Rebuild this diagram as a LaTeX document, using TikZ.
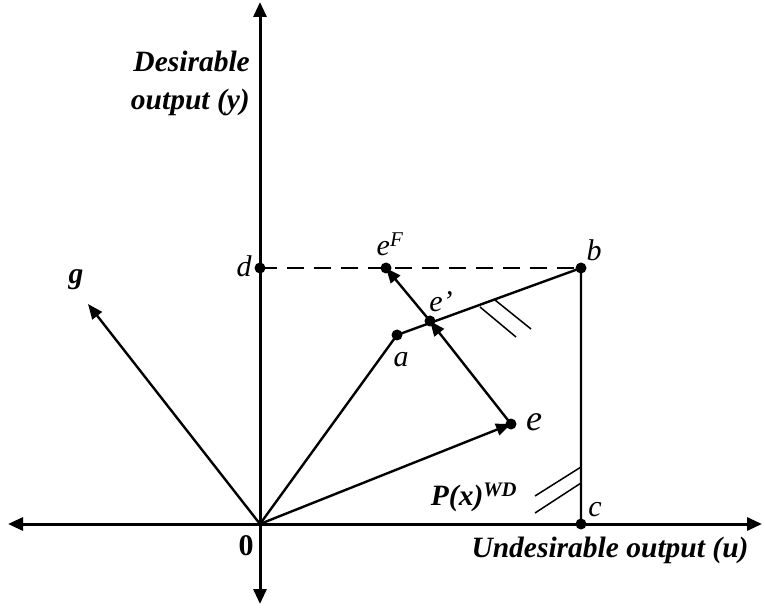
\documentclass[tikz,border=0pt]{standalone}
\usepackage{fontspec}
\setmainfont{Liberation Serif}
\usetikzlibrary{arrows.meta}
\begin{document}
\begin{tikzpicture}[x=1pt,y=1pt,
		axis/.style={line width=3pt, -{Triangle[length=15pt,width=13pt]}},
		vec/.style={line width=2.4pt, -{Triangle[length=15pt,width=12pt]}},
		edge/.style={line width=2.4pt},
		hatch/.style={line width=1.5pt},
		lbl/.style={font=\fontsize{30}{32}\selectfont\itshape, inner sep=1pt},
		bold lbl/.style={font=\fontsize{29.5}{38}\selectfont\bfseries\itshape, inner sep=1pt}]
			\useasboundingbox (0,0) rectangle (765,608);
			% points
			\coordinate (O) at (260,84);
			\coordinate (d) at (260,340);
			\coordinate (b) at (581,340);
			\coordinate (c) at (581,84);
			\coordinate (a) at (397,273);
			\coordinate (ep) at (430,287);
			\coordinate (e) at (511,184);
			\coordinate (eF) at (386,340);
			\coordinate (g) at (88,304);
			\coordinate (xl) at (8,84);
			\coordinate (xr) at (762,84);
			\coordinate (yt) at (260,606);
			\coordinate (yb) at (260,4);
			% axes
			\draw[axis] (O) -- (xr);
			\draw[axis] (O) -- (xl);
			\draw[axis] (O) -- (yt);
			\draw[axis] (O) -- (yb);
			% frontier
			\draw[edge, dash pattern=on 17pt off 10pt] (d) -- (b);
			\draw[edge] (O) -- (a) -- (b) -- (c);
			\draw[vec] (O) -- (g);
			\draw[vec] (O) -- (e);
			\draw[vec] (e) -- (ep);
			\draw[vec] (ep) -- (eF);
			% hatching
			\draw[hatch] (480,301) -- (516,271);
			\draw[hatch] (495,308) -- (531,279);
			\draw[hatch] (535,112) -- (581,141);
			\draw[hatch] (535,95) -- (581,125);
			\foreach \p in {d,b,c,a,ep,e,eF} \fill (\p) circle (5.5pt);
			% labels
			\node[bold lbl, align=right, anchor=east] (ylab) at (251,525) {Desirable\\output (y)};
			\node[bold lbl] (xlab) at (610,58) {Undesirable output (u)};
			\node[font=\fontsize{30}{32}\selectfont\bfseries] (zero) at (246,62) {0};
			\node[bold lbl] (glab) at (76,328) {g};
			\node[lbl] (dlab) at (244,342) {d};
			\node[lbl] (blab) at (594,358) {b};
			\node[lbl] (clab) at (595,98) {c};
			\node[lbl] (alab) at (401,248) {a};
			\node[lbl, font=\fontsize{36}{38}\selectfont\itshape] (elab) at (534,186) {e};
			\node[lbl] (eplab) at (441,306) {e’};
			\node[lbl] (eFlab) at (390,364) {e\textsuperscript{\itshape F}};
			\node[bold lbl] (plab) at (474,111) {P(x)\textsuperscript{WD}};
		\end{tikzpicture}
\end{document}
